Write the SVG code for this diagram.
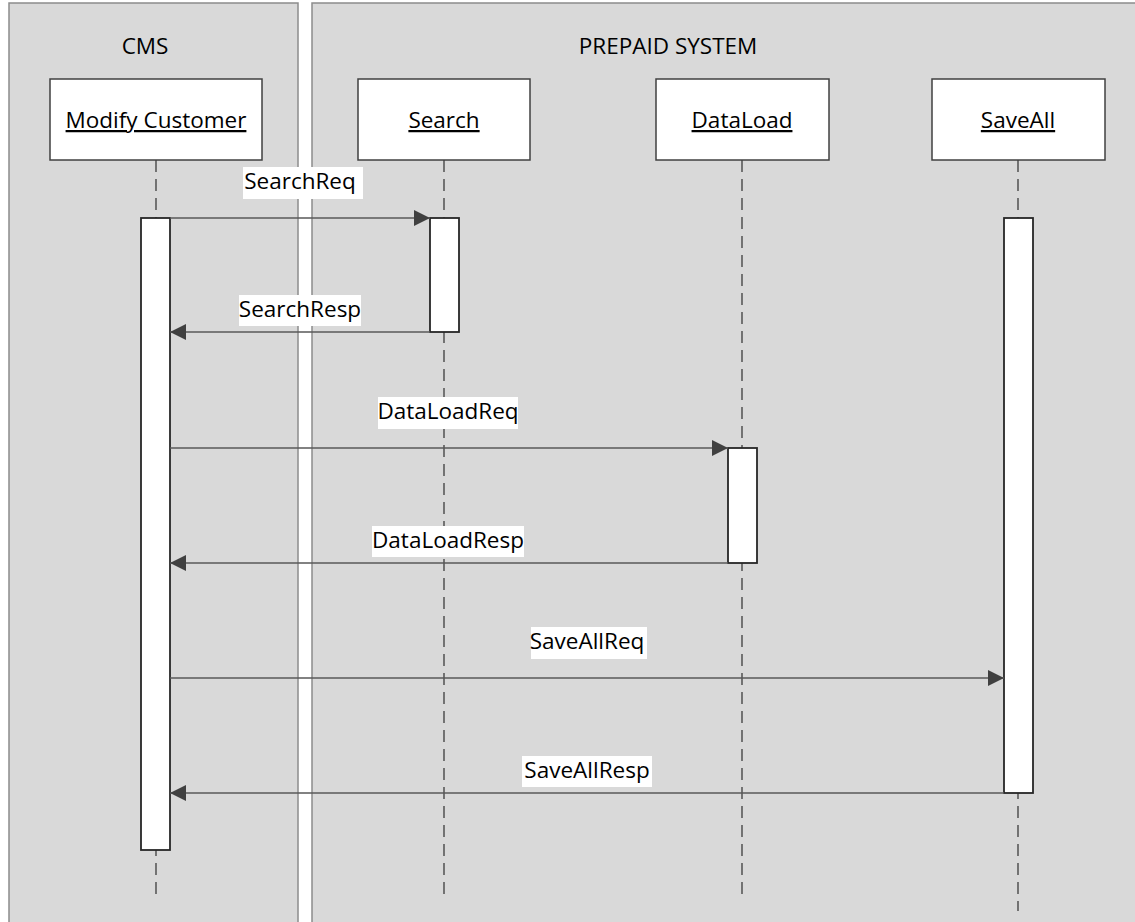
<svg xmlns="http://www.w3.org/2000/svg" width="1135" height="922" viewBox="0 0 1135 922">
<style>
.lane{fill:#d9d9d9;stroke:#8c8c8c;stroke-width:1.5}
.box{fill:#fff;stroke:#404040;stroke-width:1.5}
.act{fill:#fff;stroke:#262626;stroke-width:1.8}
.life{stroke:#595959;stroke-width:1.6;stroke-dasharray:12 7;fill:none}
.msg{stroke:#595959;stroke-width:1.6;fill:none}
.lbg{fill:#fff}
text{font-family:"Open Sans","Liberation Sans",sans-serif;font-size:22.5px;fill:#000}
.t{text-anchor:middle}
.u{text-decoration:underline}
</style>
<defs>
<marker id="ah" viewBox="0 0 16 16" refX="16" refY="8" markerWidth="16" markerHeight="16" markerUnits="userSpaceOnUse" orient="auto">
<path d="M0,0 L16,8 L0,16 Z" fill="#404040"/>
</marker>
</defs>
<g id="lane-cms">
<rect class="lane" x="9" y="3" width="289" height="930"/>
<text class="t" x="145" y="54">CMS</text>
</g>
<g id="lane-prepaid">
<rect class="lane" x="312" y="3" width="830" height="930"/>
<text class="t" x="668" y="54">PREPAID SYSTEM</text>
</g>
<g id="lifelines">
<line class="life" x1="156" y1="160" x2="156" y2="897"/>
<line class="life" x1="444" y1="160" x2="444" y2="897"/>
<line class="life" x1="742" y1="160" x2="742" y2="897"/>
<line class="life" x1="1018" y1="160" x2="1018" y2="911"/>
</g>
<g id="node-modify-customer">
<rect class="box" x="50" y="79" width="212" height="81"/>
<text class="t u" x="156" y="128">Modify Customer</text>
</g>
<g id="node-search">
<rect class="box" x="358" y="79" width="172" height="81"/>
<text class="t u" x="444" y="128">Search</text>
</g>
<g id="node-dataload">
<rect class="box" x="656" y="79" width="173" height="81"/>
<text class="t u" x="742" y="128">DataLoad</text>
</g>
<g id="node-saveall">
<rect class="box" x="932" y="79" width="173" height="81"/>
<text class="t u" x="1018" y="128">SaveAll</text>
</g>
<g id="activations">
<rect class="act" x="141" y="218" width="29" height="632"/>
<rect class="act" x="430" y="218" width="29" height="114"/>
<rect class="act" x="728" y="448" width="29" height="115"/>
<rect class="act" x="1004" y="218" width="29" height="575"/>
</g>
<g id="connectors">
<line class="msg" x1="170" y1="218" x2="430" y2="218" marker-end="url(#ah)"/>
<line class="msg" x1="430" y1="332" x2="170" y2="332" marker-end="url(#ah)"/>
<line class="msg" x1="170" y1="448" x2="728" y2="448" marker-end="url(#ah)"/>
<line class="msg" x1="728" y1="563" x2="170" y2="563" marker-end="url(#ah)"/>
<line class="msg" x1="170" y1="678" x2="1004" y2="678" marker-end="url(#ah)"/>
<line class="msg" x1="1004" y1="793" x2="170" y2="793" marker-end="url(#ah)"/>
<rect class="lbg" x="243" y="167" width="120" height="32"/>
<text class="t" x="300" y="189">SearchReq</text>
<rect class="lbg" x="239" y="295" width="122" height="31"/>
<text class="t" x="300" y="317">SearchResp</text>
<rect class="lbg" x="378" y="397" width="140" height="32"/>
<text class="t" x="448" y="419">DataLoadReq</text>
<rect class="lbg" x="372" y="526" width="152" height="31"/>
<text class="t" x="448" y="548">DataLoadResp</text>
<rect class="lbg" x="531" y="627" width="116" height="32"/>
<text class="t" x="587" y="649">SaveAllReq</text>
<rect class="lbg" x="522" y="756" width="130" height="31"/>
<text class="t" x="587" y="778">SaveAllResp</text>
</g>
</svg>
